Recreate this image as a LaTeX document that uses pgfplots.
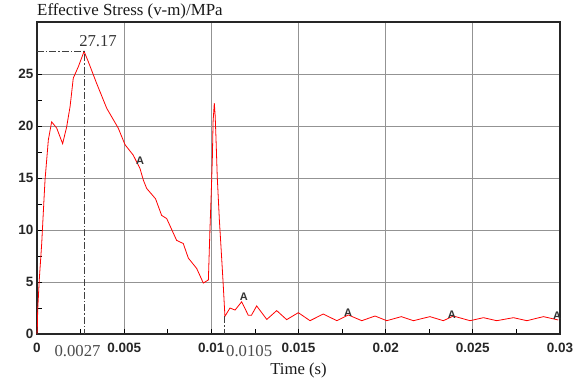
\documentclass[border=0pt]{standalone}
\usepackage{fontspec}
\setmainfont{Liberation Serif}
\setsansfont{Liberation Sans}
\usepackage{pgfplots}
\pgfplotsset{compat=1.18}
\tikzset{Alab/.style={font=\sffamily\bfseries\fontsize{11bp}{13bp}\selectfont, text=black!80, inner sep=0pt}}
\begin{document}
\begin{tikzpicture}
\begin{axis}[
  scale only axis,
  width=523bp, height=312bp,
  xmin=0, xmax=0.03, ymin=0, ymax=30,
  enlargelimits=false,
  scaled x ticks=false, scaled y ticks=false,
  xtick={0,0.005,0.01,0.015,0.02,0.025,0.03},
  xticklabels={0,0.005,0.01,0.015,0.02,0.025,0.03},
  ytick={0,5,10,15,20,25},
  yticklabels={0,5,10,15,20,25},
  minor x tick num=1,
  minor y tick num=1,
  xtick pos=bottom, ytick pos=left,
  tick align=inside,
  major tick length=5bp, minor tick length=5bp,
  tick style={black, line width=0.8bp},
  grid=major,
  major grid style={gray!85, line width=0.9bp},
  axis line style={black!85, line width=1.1bp},
  ticklabel style={font=\sffamily\bfseries\fontsize{13.5bp}{15bp}\selectfont, text=black!85},
  xticklabel style={yshift=-6bp},
  /pgf/number format/assume math mode=true,
  clip=false,
]
\addplot[red, line width=0.8bp] coordinates {
(0,0) (0.00002,0.7) (0.00004,2.3) (0.00013,5.2) (0.00027,8.7) (0.0004,12.9)
(0.00046,14.8) (0.00065,18.65) (0.00084,20.4) (0.00113,19.8) (0.00147,18.3)
(0.0017,19.9) (0.0019,21.9) (0.00208,24.6) (0.00237,25.7) (0.0027,27.17)
(0.00294,26.2) (0.00342,24.1) (0.004,21.7) (0.00466,19.8) (0.00505,18.2)
(0.00552,17.2) (0.00591,15.9) (0.0061,14.8) (0.00629,14.0) (0.0068,13.0)
(0.00715,11.4) (0.00744,11.1) (0.00801,9.0) (0.00839,8.7) (0.00868,7.3)
(0.00916,6.3) (0.00954,4.9) (0.00983,5.2) (0.00992,10.0) (0.01,13.8)
(0.01006,17.0) (0.0101,20.4) (0.01017,22.2) (0.01022,21.0) (0.01027,18.7)
(0.01034,15.1) (0.01046,11.0) (0.0106,7.1) (0.01069,4.5) (0.01078,1.7)
(0.01107,2.5) (0.01136,2.3) (0.01174,3.1) (0.01212,1.8) (0.0123,1.8)
(0.0126,2.7) (0.01318,1.4) (0.01375,2.25) (0.01432,1.38) (0.01499,2.05)
(0.01566,1.28) (0.01642,1.92) (0.0172,1.28) (0.01786,1.83) (0.01863,1.28)
(0.01939,1.73) (0.02006,1.28) (0.0209,1.67) (0.02159,1.28) (0.02254,1.67)
(0.02331,1.28) (0.02388,1.73) (0.02484,1.28) (0.02561,1.57) (0.02637,1.28)
(0.02733,1.57) (0.0281,1.28) (0.02905,1.67) (0.0299,1.35)
};
\addplot[black!75, line width=1bp, dash pattern=on 7bp off 2bp on 1.5bp off 2bp] coordinates {(0,27.17) (0.0027,27.17) (0.0027,0)};
\addplot[black!75, line width=1bp, dash pattern=on 7bp off 2bp on 1.5bp off 2bp] coordinates {(0.01078,1.7) (0.01078,0)};
\node[anchor=base west, font=\fontsize{16.7bp}{19bp}\selectfont, text=black!80, inner sep=0pt] at (axis cs:0.0027,27.17) [xshift=-5bp, yshift=5bp] {27.17};
\node[anchor=base, font=\fontsize{16.7bp}{19bp}\selectfont, text=black!70, inner sep=0pt] at (axis cs:0.0027,0) [xshift=-6.5bp, yshift=-22bp] {0.0027};
\node[anchor=base west, font=\fontsize{16.7bp}{19bp}\selectfont, text=black!70, inner sep=0pt] at (axis cs:0.01084,0) [yshift=-22bp] {0.0105};
\node[anchor=base west, font=\fontsize{16.9bp}{19bp}\selectfont, text=black!90, inner sep=0pt] at (rel axis cs:0,1) [yshift=6.5bp] {Effective Stress (v-m)/MPa};
\node[anchor=base, font=\fontsize{16.7bp}{19bp}\selectfont, text=black!90, inner sep=0pt] at (rel axis cs:0.5,0) [yshift=-40bp] {Time (s)};
\node[Alab] at (axis cs:0.00591,16.7) {A};
\node[Alab] at (axis cs:0.01187,3.56) {A};
\node[Alab] at (axis cs:0.01784,2.0) {A};
\node[Alab] at (axis cs:0.0238,1.9) {A};
\node[Alab] at (axis cs:0.02983,1.73) {A};
\end{axis}
\path ([shift={(-37bp,-49bp)}]current axis.south west) rectangle ([shift={(21bp,22bp)}]current axis.north east);
\end{tikzpicture}
\end{document}
